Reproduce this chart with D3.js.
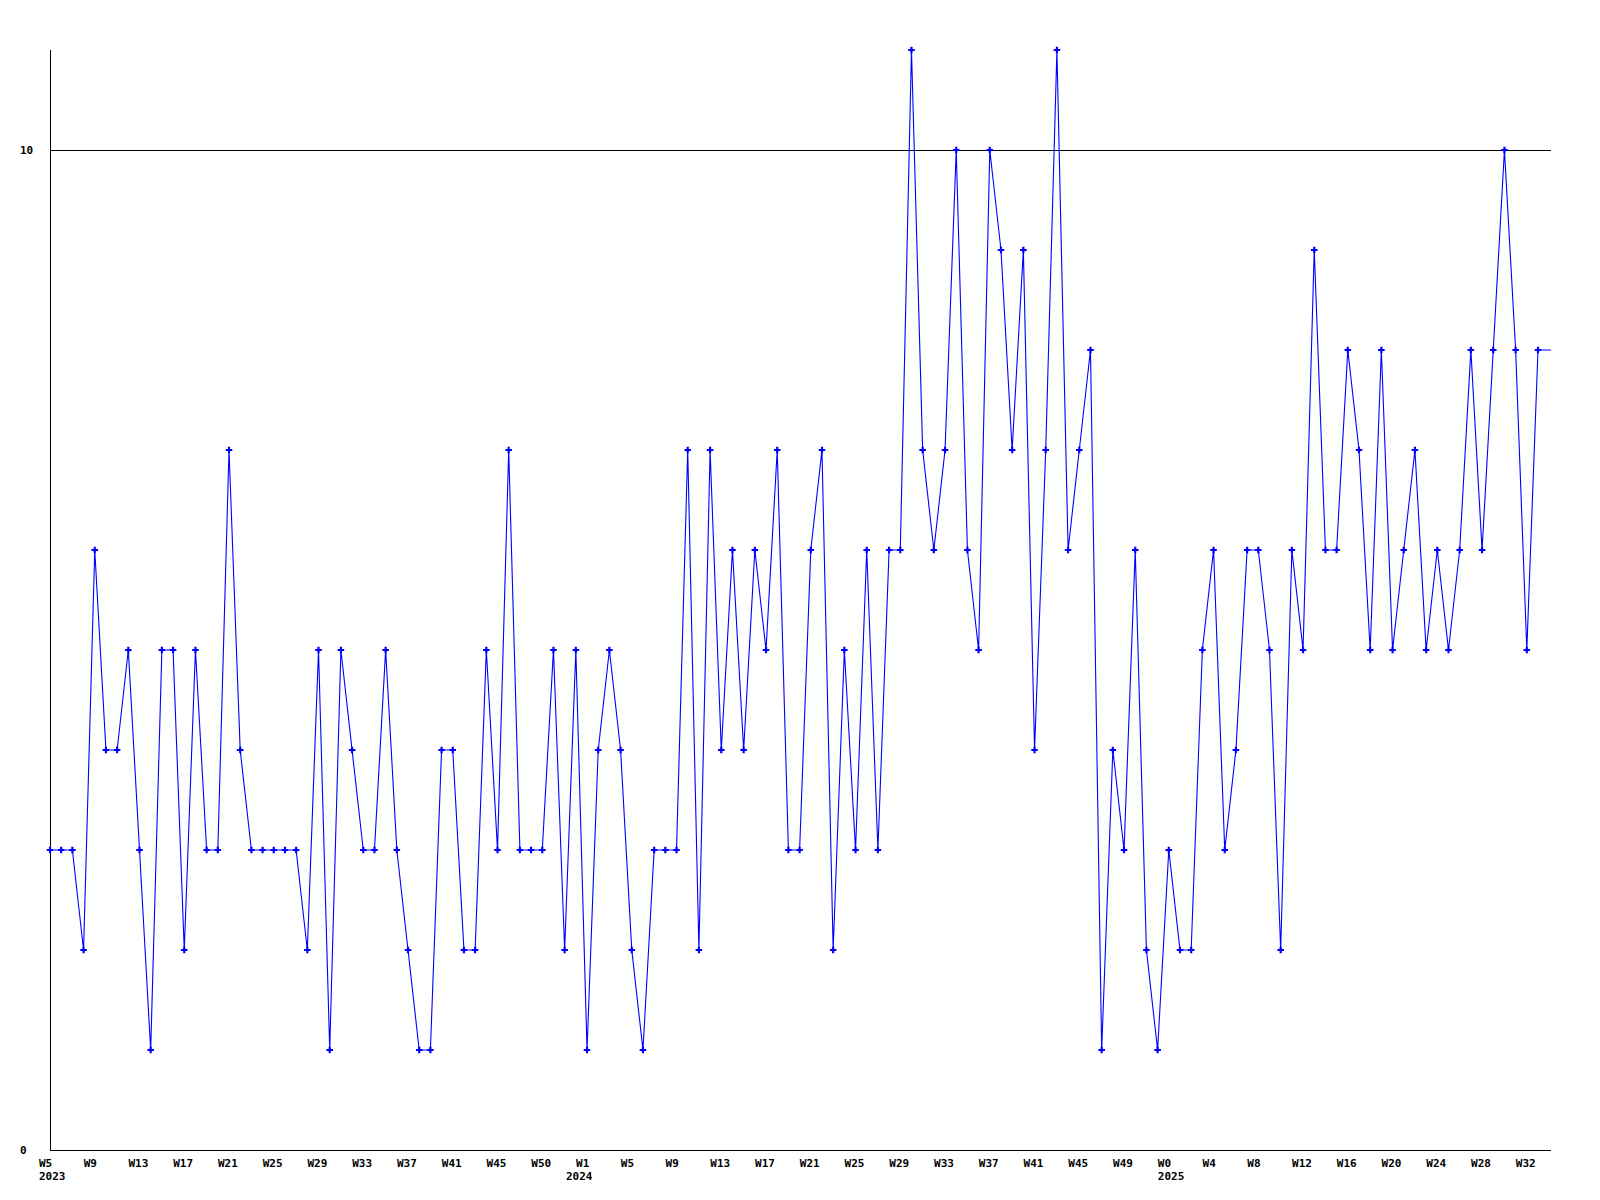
<!DOCTYPE html>
<html>
<head>
<meta charset="utf-8">
<script src="https://cdn.jsdelivr.net/npm/d3@7"></script>
<style>
  html, body { margin: 0; padding: 0; background: #fff; }
  svg { display: block; }
  text { font-family: "DejaVu Sans Mono", "Liberation Mono", monospace; font-weight: bold; font-size: 11px; fill: #000; }
</style>
</head>
<body>
<svg id="chart" width="1600" height="1200"></svg>
<script>
// Weekly values, 2023 W5 .. 2025 W33
const values = [
  3, 3, 3, 2, 6, 4, 4, 5, 3, 1, 5, 5, 2, 5, 3, 3, 7, 4, 3, 3,
  3, 3, 3, 2, 5, 1, 5, 4, 3, 3, 5, 3, 2, 1, 1, 4, 4, 2, 2, 5,
  3, 7, 3, 3, 3, 5, 2, 5, 1, 4, 5, 4, 2, 1, 3, 3, 3, 7, 2, 7,
  4, 6, 4, 6, 5, 7, 3, 3, 6, 7, 2, 5, 3, 6, 3, 6, 6, 11, 7, 6,
  7, 10, 6, 5, 10, 9, 7, 9, 4, 7, 11, 6, 7, 8, 1, 4, 3, 6, 2, 1,
  3, 2, 2, 5, 6, 3, 4, 6, 6, 5, 2, 6, 5, 9, 6, 6, 8, 7, 5, 8,
  5, 6, 7, 5, 6, 5, 6, 8, 6, 8, 10, 8, 5, 8
];

// x tick labels, one every 4 weeks starting at index 0
const weekTickLabels = [
  "W5", "W9", "W13", "W17", "W21", "W25", "W29", "W33", "W37", "W41", "W45", "W50",
  "W1", "W5", "W9", "W13", "W17", "W21", "W25", "W29", "W33", "W37", "W41", "W45", "W49",
  "W0", "W4", "W8", "W12", "W16", "W20", "W24", "W28", "W32"
];
const tickEvery = 4;

// year labels and where (in week index units) they start
const yearLabels = ["2023", "2024", "2025"];
const yearStarts = [0, 47.1, 100];

// y tick values
const yTicks = [0, 10];
const yMax = 11;

(function () {
  const svg = d3.select("#chart");
  const mLeft = 50, mTop = 50, mBottom = 1150, mRight = 1551;

  const x = d3.scaleLinear().domain([0, values.length - 1]).range([mLeft, 1538]);
  const y = d3.scaleLinear().domain([0, yMax]).range([mBottom, mTop]);

  // gridlines for y ticks (except 0)
  svg.append("g").selectAll("line")
    .data(yTicks.filter(d => d > 0))
    .join("line")
    .attr("x1", mLeft).attr("x2", mRight)
    .attr("y1", d => Math.round(y(d)) + 0.5).attr("y2", d => Math.round(y(d)) + 0.5)
    .attr("stroke", "#000").attr("stroke-width", 1)
    .attr("shape-rendering", "crispEdges");

  // y axis labels
  svg.append("g").selectAll("text")
    .data(yTicks)
    .join("text")
    .attr("x", 20)
    .attr("y", d => y(d) + 4)
    .text(d => d);

  // axes lines
  svg.append("line")
    .attr("x1", mLeft + 0.5).attr("x2", mLeft + 0.5)
    .attr("y1", mTop).attr("y2", mBottom)
    .attr("stroke", "#000").attr("shape-rendering", "crispEdges");
  svg.append("line")
    .attr("x1", mLeft).attr("x2", mRight)
    .attr("y1", mBottom + 0.5).attr("y2", mBottom + 0.5)
    .attr("stroke", "#000").attr("shape-rendering", "crispEdges");

  // x week labels
  svg.append("g").selectAll("text")
    .data(weekTickLabels)
    .join("text")
    .attr("x", (d, i) => x(i * tickEvery) - 11)
    .attr("y", 1167)
    .text(d => d);

  // year labels
  svg.append("g").selectAll("text")
    .data(yearLabels)
    .join("text")
    .attr("x", (d, i) => x(yearStarts[i]) - 11)
    .attr("y", 1180)
    .text(d => d);

  // series line, continuing flat to the right edge of the plot
  const line = d3.line().x((d, i) => x(i)).y(d => y(d));
  svg.append("path")
    .attr("d", line(values) + "H" + mRight)
    .attr("fill", "none")
    .attr("stroke", "#0000ff")
    .attr("stroke-width", 1.1);

  // markers
  const cross = d3.symbol().type(d3.symbolCross).size(24);
  svg.append("g").selectAll("path")
    .data(values)
    .join("path")
    .attr("transform", (d, i) => `translate(${x(i)},${y(d)})`)
    .attr("d", cross)
    .attr("fill", "#0000ff");
})();
</script>
</body>
</html>
